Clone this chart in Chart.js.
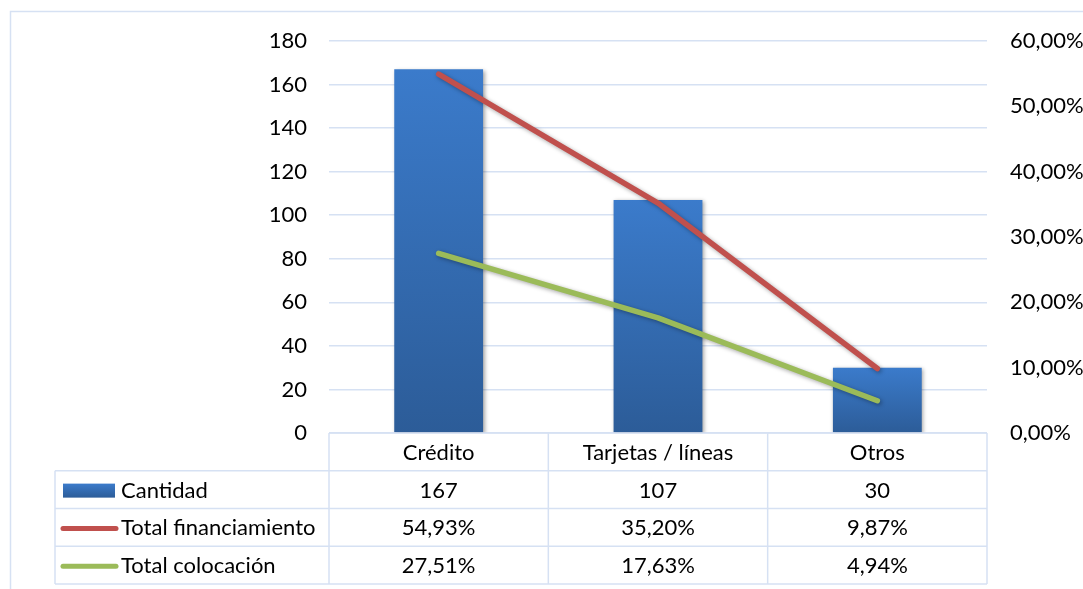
<!DOCTYPE html>
<html>
<head>
<meta charset="utf-8">
<script src="https://cdn.jsdelivr.net/npm/chart.js@4"></script>
<style>
  html, body { margin: 0; padding: 0; background: #ffffff; }
  #wrap { position: relative; width: 1083px; height: 589px; }
</style>
</head>
<body>
<div id="wrap"><canvas id="c" width="1083" height="589"></canvas></div>
<script>
// Categories and series
const categories = ['Crédito', 'Tarjetas / líneas', 'Otros'];
const cantidad = [167, 107, 30];
const totalFinanciamiento = [54.93, 35.20, 9.87];   // percent
const totalColocacion = [27.51, 17.63, 4.94];       // percent
const leftTicks = [0, 20, 40, 60, 80, 100, 120, 140, 160, 180];
const rightTicks = [0, 10, 20, 30, 40, 50, 60];    // percent

const FONT = 'Lato, "Open Sans", sans-serif';
const FONT_SIZE = 22;
const GRID = '#d6e1f3';
const RED = '#c0504d';
const GREEN = '#9bbb59';

const pct = v => v.toFixed(2).replace('.', ',') + '%';

function barGradient(ctx2d, top, bottom) {
  const g = ctx2d.createLinearGradient(0, top, 0, bottom);
  g.addColorStop(0, '#3b7bcb');
  g.addColorStop(1, '#2c5c98');
  return g;
}

// Soft drop shadow behind each dataset
const shadowPlugin = {
  id: 'shadow',
  beforeDatasetDraw(chart, args) {
    const c = chart.ctx;
    c.save();
    c.shadowColor = 'rgba(0,0,0,0.35)';
    c.shadowBlur = 4;
    c.shadowOffsetX = 1.5;
    c.shadowOffsetY = 1.5;
  },
  afterDatasetDraw(chart) {
    chart.ctx.restore();
  }
};

// Outer frame of the chart object
const framePlugin = {
  id: 'frame',
  beforeDraw(chart) {
    const c = chart.ctx;
    c.save();
    c.strokeStyle = GRID;
    c.lineWidth = 1.5;
    c.beginPath();
    c.moveTo(10.5, chart.height + 5);
    c.lineTo(10.5, 11.5);
    c.lineTo(chart.width + 5, 11.5);
    c.stroke();
    c.restore();
  }
};

// Data table under the plot, with legend keys in the first column
const tablePlugin = {
  id: 'dataTable',
  afterDraw(chart) {
    const c = chart.ctx;
    const x = chart.scales.x;
    const area = chart.chartArea;
    const left = area.left, right = area.right;
    const colW = (right - left) / categories.length;
    const legendLeft = 55;
    const rowH = 37.75;
    const top = area.bottom;
    const rowsY = [top, top + rowH, top + 2 * rowH, top + 3 * rowH, top + 4 * rowH];

    c.save();
    c.strokeStyle = GRID;
    c.lineWidth = 1.5;
    c.beginPath();
    // header row top line
    c.moveTo(left, rowsY[0]); c.lineTo(right, rowsY[0]);
    // body rows
    for (let r = 1; r < rowsY.length; r++) {
      c.moveTo(legendLeft, rowsY[r]); c.lineTo(right, rowsY[r]);
    }
    // verticals
    c.moveTo(legendLeft, rowsY[1]); c.lineTo(legendLeft, rowsY[4]);
    for (let i = 0; i <= categories.length; i++) {
      const xx = left + i * colW;
      c.moveTo(xx, rowsY[0]); c.lineTo(xx, rowsY[4]);
    }
    c.stroke();

    c.fillStyle = '#000000';
    c.font = FONT_SIZE + 'px ' + FONT;
    c.textAlign = 'center';
    c.textBaseline = 'middle';
    const rowMid = r => (rowsY[r] + rowsY[r + 1]) / 2 + 1;
    categories.forEach((cat, i) => {
      const cx = x.getPixelForValue(i);
      c.fillText(cat, cx, rowMid(0));
      c.fillText(String(cantidad[i]), cx, rowMid(1));
      c.fillText(pct(totalFinanciamiento[i]), cx, rowMid(2));
      c.fillText(pct(totalColocacion[i]), cx, rowMid(3));
    });

    // legend keys
    const keyX0 = 63, keyX1 = 115;
    // bar key
    let y = rowMid(1);
    c.fillStyle = barGradient(c, y - 7, y + 7);
    c.fillRect(keyX0, y - 7, keyX1 - keyX0, 14);
    // line keys
    [[2, RED], [3, GREEN]].forEach(([r, col]) => {
      const ly = rowMid(r);
      c.strokeStyle = col;
      c.lineWidth = 5;
      c.lineCap = 'round';
      c.beginPath();
      c.moveTo(63, ly); c.lineTo(116, ly);
      c.stroke();
    });
    c.fillStyle = '#000000';
    c.textAlign = 'left';
    const names = chart.data.datasets.map(d => d.label);
    names.forEach((n, k) => c.fillText(n, 121, rowMid(k + 1)));
    c.restore();
  }
};

const ctx = document.getElementById('c').getContext('2d');
new Chart(ctx, {
  data: {
    labels: categories,
    datasets: [
      {
        type: 'bar',
        label: 'Cantidad',
        data: cantidad,
        yAxisID: 'y',
        order: 2,
        categoryPercentage: 1,
        barPercentage: 0.405,
        backgroundColor(context) {
          const chart = context.chart;
          const ys = chart.scales.y;
          if (!ys || context.dataIndex === undefined) return '#3570b8';
          const top = ys.getPixelForValue(cantidad[context.dataIndex]);
          const bottom = ys.getPixelForValue(0);
          if (!isFinite(top) || !isFinite(bottom)) return '#3570b8';
          return barGradient(chart.ctx, top, bottom);
        },
        borderWidth: 0
      },
      {
        type: 'line',
        label: 'Total financiamiento',
        data: totalFinanciamiento,
        yAxisID: 'y1',
        order: 1,
        borderColor: RED,
        borderWidth: 5.5,
        borderCapStyle: 'round',
        borderJoinStyle: 'round',
        pointRadius: 0,
        tension: 0,
        fill: false
      },
      {
        type: 'line',
        label: 'Total colocación',
        data: totalColocacion,
        yAxisID: 'y1',
        order: 0,
        borderColor: GREEN,
        borderWidth: 5.5,
        borderCapStyle: 'round',
        borderJoinStyle: 'round',
        pointRadius: 0,
        tension: 0,
        fill: false
      }
    ]
  },
  options: {
    responsive: false,
    animation: false,
    events: [],
    layout: { padding: { left: 10, right: 0, top: 41, bottom: 156 } },
    plugins: {
      legend: { display: false },
      tooltip: { enabled: false },
      title: { display: false }
    },
    scales: {
      x: {
        display: false,
        offset: true,
        grid: { display: false }
      },
      y: {
        position: 'left',
        min: 0,
        max: 180,
        afterBuildTicks(scale) { scale.ticks = leftTicks.map(v => ({ value: v })); },
        afterFit(scale) { scale.width = 319; },
        border: { display: false },
        grid: { color: GRID, lineWidth: 1.5, drawTicks: false },
        ticks: {
          padding: 22,
          color: '#000000',
          font: { family: FONT, size: FONT_SIZE }
        }
      },
      y1: {
        position: 'right',
        min: 0,
        max: 60,
        afterBuildTicks(scale) { scale.ticks = rightTicks.map(v => ({ value: v })); },
        afterFit(scale) { scale.width = 96; },
        border: { display: false },
        grid: { display: false, drawTicks: false },
        ticks: {
          padding: 23,
          color: '#000000',
          font: { family: FONT, size: FONT_SIZE },
          callback: v => pct(v)
        }
      }
    }
  },
  plugins: [framePlugin, shadowPlugin, tablePlugin]
});
</script>
</body>
</html>
